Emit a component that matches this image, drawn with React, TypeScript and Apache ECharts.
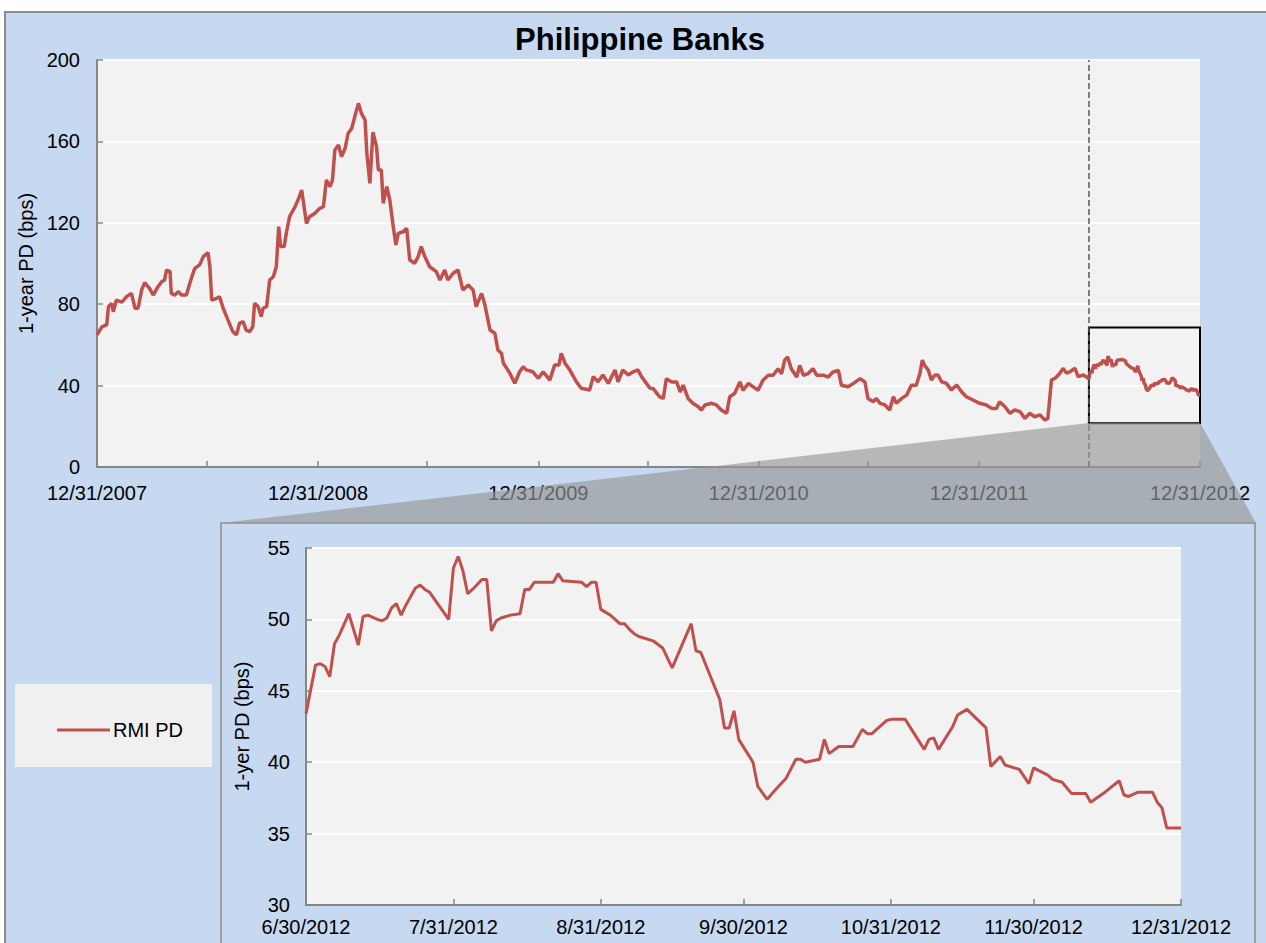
import React, { useEffect, useRef } from "react";
import * as echarts from "echarts";

// ---------- data ----------
const TITLE = "Philippine Banks";
const SERIES_NAME = "RMI PD";
const MAIN_Y_NAME = "1-year PD (bps)";
const ZOOM_Y_NAME = "1-yer PD (bps)";

const mainStart = "2007-12-31";
const mainEnd = "2012-12-31";
const zoomStart = "2012-06-30";
const zoomEnd = "2012-12-31";

const mainLabelDates = ["2007-12-31", "2008-12-31", "2009-12-31", "2010-12-31", "2011-12-31", "2012-12-31"];
const mainTickDates = [
  "2008-06-30", "2008-12-31", "2009-06-30", "2009-12-31", "2010-06-30",
  "2010-12-31", "2011-06-30", "2011-12-31", "2012-06-30", "2012-12-31",
];
const zoomLabelDates = ["2012-06-30", "2012-07-31", "2012-08-31", "2012-09-30", "2012-10-31", "2012-11-30", "2012-12-31"];

const mainYMin = 0, mainYMax = 200, mainYStep = 40;
const zoomYMin = 30, zoomYMax = 55, zoomYStep = 5;

// highlighted window (box) in the main chart
const boxYTop = 68.5;
const boxYBottom = 21.5;

// main series, 12/31/2007 - 6/29/2012
const mainDates = [
  "2007-12-31", "2008-01-08", "2008-01-16", "2008-01-19", "2008-01-24", "2008-01-27", "2008-02-01", "2008-02-10",
  "2008-02-18", "2008-02-26", "2008-03-03", "2008-03-08", "2008-03-14", "2008-03-19", "2008-03-27", "2008-04-02",
  "2008-04-10", "2008-04-16", "2008-04-21", "2008-04-24", "2008-04-30", "2008-05-02", "2008-05-08", "2008-05-14",
  "2008-05-19", "2008-05-27", "2008-06-05", "2008-06-10", "2008-06-18", "2008-06-24", "2008-07-02", "2008-07-05",
  "2008-07-08", "2008-07-16", "2008-07-21", "2008-07-27", "2008-08-04", "2008-08-12", "2008-08-18", "2008-08-23",
  "2008-08-29", "2008-09-03", "2008-09-09", "2008-09-14", "2008-09-17", "2008-09-23", "2008-09-28", "2008-10-01",
  "2008-10-07", "2008-10-12", "2008-10-18", "2008-10-23", "2008-10-27", "2008-10-30", "2008-11-05", "2008-11-09",
  "2008-11-14", "2008-11-23", "2008-11-28", "2008-12-04", "2008-12-08", "2008-12-12", "2008-12-17", "2008-12-26",
  "2009-01-03", "2009-01-09", "2009-01-14", "2009-01-20", "2009-01-24", "2009-01-28", "2009-02-03", "2009-02-08",
  "2009-02-14", "2009-02-19", "2009-02-25", "2009-03-02", "2009-03-08", "2009-03-13", "2009-03-19", "2009-03-22",
  "2009-03-27", "2009-04-01", "2009-04-07", "2009-04-10", "2009-04-15", "2009-04-18", "2009-04-24", "2009-04-29",
  "2009-05-04", "2009-05-09", "2009-05-13", "2009-05-21", "2009-05-27", "2009-06-01", "2009-06-09", "2009-06-15",
  "2009-06-20", "2009-06-26", "2009-07-04", "2009-07-15", "2009-07-21", "2009-07-29", "2009-08-03", "2009-08-12",
  "2009-08-20", "2009-08-28", "2009-09-06", "2009-09-14", "2009-09-19", "2009-09-28", "2009-10-03", "2009-10-12",
  "2009-10-20", "2009-10-25", "2009-10-31", "2009-11-03", "2009-11-14", "2009-11-22", "2009-11-30", "2009-12-06",
  "2009-12-11", "2009-12-22", "2009-12-31", "2010-01-08", "2010-01-19", "2010-01-27", "2010-02-03", "2010-02-07",
  "2010-02-13", "2010-02-21", "2010-03-04", "2010-03-12", "2010-03-26", "2010-04-01", "2010-04-09", "2010-04-17",
  "2010-04-26", "2010-05-07", "2010-05-12", "2010-05-20", "2010-05-29", "2010-06-06", "2010-06-14", "2010-06-20",
  "2010-06-28", "2010-07-04", "2010-07-09", "2010-07-20", "2010-07-26", "2010-07-31", "2010-08-09", "2010-08-17",
  "2010-08-23", "2010-08-28", "2010-09-05", "2010-09-13", "2010-09-22", "2010-09-27", "2010-10-03", "2010-10-14",
  "2010-10-22", "2010-10-30", "2010-11-08", "2010-11-13", "2010-11-21", "2010-11-30", "2010-12-05", "2010-12-14",
  "2010-12-22", "2010-12-30", "2011-01-07", "2011-01-16", "2011-01-24", "2011-02-01", "2011-02-07", "2011-02-12",
  "2011-02-17", "2011-02-23", "2011-03-04", "2011-03-09", "2011-03-15", "2011-03-23", "2011-03-31", "2011-04-06",
  "2011-04-17", "2011-04-25", "2011-05-03", "2011-05-12", "2011-05-17", "2011-05-28", "2011-06-06", "2011-06-17",
  "2011-06-25", "2011-06-30", "2011-07-09", "2011-07-14", "2011-07-20", "2011-07-28", "2011-08-05", "2011-08-11",
  "2011-08-16", "2011-08-25", "2011-09-02", "2011-09-10", "2011-09-18", "2011-09-24", "2011-09-28", "2011-10-02",
  "2011-10-08", "2011-10-13", "2011-10-19", "2011-10-24", "2011-10-30", "2011-11-07", "2011-11-15", "2011-11-24",
  "2011-12-02", "2011-12-10", "2011-12-21", "2012-01-01", "2012-01-12", "2012-01-21", "2012-01-29", "2012-02-03",
  "2012-02-12", "2012-02-20", "2012-02-28", "2012-03-08", "2012-03-16", "2012-03-24", "2012-04-01", "2012-04-10",
  "2012-04-18", "2012-04-23", "2012-04-29", "2012-05-05", "2012-05-13", "2012-05-18", "2012-05-24", "2012-05-30",
  "2012-06-07", "2012-06-12", "2012-06-21", "2012-06-29",
];
const mainValues = [
  64.9, 68.9, 69.8, 78.8, 80.4, 76.3, 82, 81,
  83.7, 85.3, 78, 78, 87, 90.6, 87.8, 84.5,
  88.6, 91, 91.9, 96.8, 96, 85.3, 84.5, 86.2,
  84.5, 84.5, 93.5, 97.6, 99.3, 103.4, 105.3, 98.4,
  82, 82.9, 83.7, 78, 72.2, 66.5, 64.9, 70.6,
  71.4, 67.3, 66.5, 68.9, 80.4, 78.8, 73.9, 78,
  78.8, 91.9, 93.5, 98.4, 118.1, 108.3, 108.3, 115.6,
  123, 127.9, 131.2, 136.1, 127.9, 119.7, 123, 124.7,
  127.1, 127.9, 141, 137.8, 141, 155.8, 158.2, 152.5,
  156.6, 164, 166.4, 172.2, 178.7, 173.8, 170.5, 154.1,
  139.4, 164.5, 157.4, 146, 146, 129.6, 137.8, 131.2,
  119.7, 109.1, 114.8, 115.6, 117.3, 101.7, 100.1, 103.4,
  108.3, 103.4, 98.4, 96, 91.9, 96.8, 91.9, 95.2,
  96.8, 87, 89.4, 87, 78.8, 85.3, 80.4, 67.3,
  65.7, 57.5, 55.9, 51.1, 46, 41.1, 46.8, 49.3,
  47.7, 46.8, 43.6, 46.8, 42.7, 50.1, 50.1, 55.9,
  51.1, 47.7, 41.9, 38.7, 37.8, 44.4, 41.9, 45.2,
  41.1, 47.7, 41.9, 47.7, 45.2, 46.8, 47.7, 44.4,
  41.1, 38.7, 38.6, 34.5, 33.7, 43.4, 41.8, 41.8,
  36.9, 40.2, 33.7, 31.3, 29.6, 28, 30.5, 31.3,
  30.5, 28, 26.4, 34.5, 36.1, 41.8, 37.7, 41.1,
  39.4, 37.7, 42.6, 45.1, 45.1, 48.3, 45.9, 52.5,
  54.1, 48.3, 44.2, 49.9, 45.1, 45.9, 48.3, 45.1,
  45.1, 44.2, 46.7, 47.5, 40.2, 39.4, 41.1, 43.4,
  41.8, 33.7, 32.1, 33.7, 31.3, 30.5, 28, 34.5,
  31.3, 33.7, 35.3, 40.2, 40.2, 45.9, 52.5, 49.9,
  47.6, 42.8, 45.2, 45.2, 41.9, 41.1, 37.8, 40.3,
  37, 34.5, 32.9, 31.3, 30.5, 28.8, 28.8, 32.1,
  29.6, 26.4, 28, 27.2, 23.9, 26.4, 24.7, 25.6,
  23.1, 23.9, 42.8, 43.6, 46.1, 48.5, 46.1, 46.9,
  48.5, 44.4, 45.2, 43.6,
];

// zoomed window, 6/30/2012 - 12/31/2012
const zoomDates = [
  "2012-06-30", "2012-07-02", "2012-07-03", "2012-07-04", "2012-07-05", "2012-07-06", "2012-07-07", "2012-07-09",
  "2012-07-11", "2012-07-12", "2012-07-13", "2012-07-15", "2012-07-16", "2012-07-17", "2012-07-18", "2012-07-19",
  "2012-07-20", "2012-07-21", "2012-07-23", "2012-07-24", "2012-07-25", "2012-07-26", "2012-07-30", "2012-07-31",
  "2012-08-01", "2012-08-02", "2012-08-03", "2012-08-04", "2012-08-06", "2012-08-07", "2012-08-08", "2012-08-09",
  "2012-08-10", "2012-08-12", "2012-08-14", "2012-08-15", "2012-08-16", "2012-08-17", "2012-08-21", "2012-08-22",
  "2012-08-23", "2012-08-27", "2012-08-28", "2012-08-29", "2012-08-30", "2012-08-31", "2012-09-02", "2012-09-04",
  "2012-09-05", "2012-09-06", "2012-09-07", "2012-09-08", "2012-09-11", "2012-09-13", "2012-09-15", "2012-09-19",
  "2012-09-20", "2012-09-21", "2012-09-25", "2012-09-26", "2012-09-27", "2012-09-28", "2012-09-29", "2012-10-02",
  "2012-10-03", "2012-10-05", "2012-10-06", "2012-10-09", "2012-10-11", "2012-10-12", "2012-10-13", "2012-10-16",
  "2012-10-17", "2012-10-18", "2012-10-20", "2012-10-23", "2012-10-25", "2012-10-26", "2012-10-27", "2012-10-30",
  "2012-10-31", "2012-11-03", "2012-11-07", "2012-11-08", "2012-11-09", "2012-11-10", "2012-11-13", "2012-11-14",
  "2012-11-16", "2012-11-20", "2012-11-21", "2012-11-23", "2012-11-24", "2012-11-27", "2012-11-29", "2012-11-30",
  "2012-12-03", "2012-12-04", "2012-12-06", "2012-12-08", "2012-12-11", "2012-12-12", "2012-12-15", "2012-12-18",
  "2012-12-19", "2012-12-20", "2012-12-22", "2012-12-25", "2012-12-26", "2012-12-27", "2012-12-28", "2012-12-31",
];
const zoomValues = [
  43.4, 46.8, 46.9, 46.7, 46.0, 48.3, 48.9, 50.4,
  48.2, 50.2, 50.3, 50.0, 49.9, 50.1, 50.8, 51.1,
  50.3, 51.0, 52.2, 52.4, 52.1, 51.9, 50.0, 53.6,
  54.4, 53.4, 51.8, 52.1, 52.8, 52.8, 49.2, 49.9,
  50.1, 50.3, 50.4, 52.1, 52.1, 52.6, 52.6, 53.2,
  52.7, 52.6, 52.3, 52.6, 52.6, 50.7, 50.3, 49.7,
  49.7, 49.3, 49.0, 48.8, 48.5, 48.0, 46.6, 49.7,
  47.8, 47.7, 44.4, 42.4, 42.4, 43.6, 41.6, 40.0,
  38.3, 37.4, 37.8, 38.9, 40.2, 40.2, 40.0, 40.2,
  41.6, 40.6, 41.1, 41.1, 42.3, 42.0, 42.0, 42.9,
  43.0, 43.0, 40.9, 41.6, 41.7, 40.9, 42.5, 43.3,
  43.7, 42.4, 39.7, 40.4, 39.8, 39.5, 38.5, 39.6,
  39.1, 38.8, 38.6, 37.8, 37.8, 37.2, 37.9, 38.7,
  37.7, 37.6, 37.9, 37.9, 37.2, 36.8, 35.4, 35.4,
];

// ---------- style ----------
const FONT = '"Liberation Sans", Arial, sans-serif';
const RED = "#c0504d";
const BLUE = "#c6d9f0";
const PLOT_BG = "#f2f2f2";
const AXIS = "#868686";

function ts(s: string): number {
  const [y, m, d] = s.split("-").map(Number);
  return Date.UTC(y, m - 1, d);
}
function fmt(v: number): string {
  const d = new Date(v);
  return `${d.getUTCMonth() + 1}/${d.getUTCDate()}/${d.getUTCFullYear()}`;
}

export default function App() {
  const ref = useRef<HTMLDivElement>(null);

  useEffect(() => {
    if (!ref.current) return;
    const chart = echarts.init(ref.current, undefined, { renderer: "svg" });

    const mainData = mainDates
      .map((d, i) => [ts(d), mainValues[i]])
      .concat(zoomDates.map((d, i) => [ts(d), zoomValues[i]]));
    const zoomData = zoomDates.map((d, i) => [ts(d), zoomValues[i]]);

    const mainGrid = { left: 97, top: 60, width: 1103, height: 407 };
    const zoomGrid = { left: 306, top: 548, width: 875, height: 357 };

    const axisLine = { show: true, lineStyle: { color: AXIS, width: 2 } };
    const labelStyle = { fontSize: 20, color: "#000", fontFamily: FONT };

    chart.setOption({
      animation: false,
      backgroundColor: "#ffffff",
      textStyle: { fontFamily: FONT },
      grid: [
        { ...mainGrid, containLabel: false },
        { ...zoomGrid, containLabel: false },
      ],
      xAxis: [
        {
          type: "value",
          gridIndex: 0,
          min: ts(mainStart),
          max: ts(mainEnd),
          axisLine,
          axisTick: {
            show: true,
            inside: true,
            length: 6,
            customValues: mainTickDates.map(ts),
            lineStyle: { color: AXIS, width: 1.5 },
          },
          axisLabel: {
            ...labelStyle,
            customValues: mainLabelDates.map(ts),
            formatter: fmt,
            margin: 16,
            showMinLabel: true,
            showMaxLabel: true,
            hideOverlap: false,
          },
          splitLine: { show: false },
        },
        {
          type: "value",
          gridIndex: 1,
          min: ts(zoomStart),
          max: ts(zoomEnd),
          axisLine,
          axisTick: {
            show: true,
            inside: true,
            length: 6,
            customValues: zoomLabelDates.map(ts),
            lineStyle: { color: AXIS, width: 1.5 },
          },
          axisLabel: {
            ...labelStyle,
            customValues: zoomLabelDates.map(ts),
            formatter: fmt,
            margin: 12,
            showMinLabel: true,
            showMaxLabel: true,
            hideOverlap: false,
          },
          splitLine: { show: false },
        },
      ],
      yAxis: [
        {
          type: "value",
          gridIndex: 0,
          min: mainYMin,
          max: mainYMax,
          interval: mainYStep,
          axisLine,
          axisTick: { show: true, inside: true, length: 6, lineStyle: { color: AXIS, width: 1.5 } },
          axisLabel: { ...labelStyle, margin: 17 },
          splitLine: { show: true, lineStyle: { color: "#ffffff", width: 2 } },
          name: MAIN_Y_NAME,
          nameLocation: "middle",
          nameGap: 55,
          nameTextStyle: { ...labelStyle },
        },
        {
          type: "value",
          gridIndex: 1,
          min: zoomYMin,
          max: zoomYMax,
          interval: zoomYStep,
          axisLine,
          axisTick: { show: true, inside: true, length: 6, lineStyle: { color: AXIS, width: 1.5 } },
          axisLabel: { ...labelStyle, margin: 16 },
          splitLine: { show: true, lineStyle: { color: "#ffffff", width: 2 } },
          name: ZOOM_Y_NAME,
          nameLocation: "middle",
          nameGap: 54,
          nameTextStyle: { ...labelStyle },
        },
      ],
      legend: {
        data: [SERIES_NAME],
        left: 52,
        top: 715,
        icon: "rect",
        itemWidth: 53,
        itemHeight: 3,
        selectedMode: false,
        itemStyle: { color: RED },
        textStyle: { ...labelStyle, padding: [0, 0, 0, -2] },
      },
      series: [
        {
          type: "line",
          name: SERIES_NAME,
          xAxisIndex: 0,
          yAxisIndex: 0,
          data: mainData,
          symbol: "none",
          showSymbol: false,
          lineStyle: { color: RED, width: 3.5 },
          itemStyle: { color: RED },
          z: 3,
          markLine: {
            silent: true,
            symbol: ["none", "none"],
            label: { show: false },
            lineStyle: { color: "#595959", width: 1.5, type: "dashed" },
            data: [{ xAxis: ts(zoomStart) }],
          },
          markArea: {
            silent: true,
            label: { show: false },
            itemStyle: { color: "rgba(0,0,0,0)", borderColor: "#000000", borderWidth: 2 },
            data: [[{ xAxis: ts(zoomStart), yAxis: boxYTop }, { xAxis: ts(zoomEnd), yAxis: boxYBottom }]],
          },
        },
        {
          type: "line",
          name: SERIES_NAME,
          xAxisIndex: 1,
          yAxisIndex: 1,
          data: zoomData,
          symbol: "none",
          showSymbol: false,
          lineStyle: { color: RED, width: 3 },
          itemStyle: { color: RED },
          z: 3,
        },
      ],
      graphic: [
        {
          type: "rect",
          silent: true,
          z: -20,
          shape: { x: 5, y: 12, width: 1300, height: 1000 },
          style: { fill: BLUE, stroke: "#8c8c8c", lineWidth: 2 },
        },
        {
          type: "rect",
          silent: true,
          z: -15,
          shape: { x: mainGrid.left, y: mainGrid.top, width: mainGrid.width, height: mainGrid.height },
          style: { fill: PLOT_BG },
        },
        {
          type: "rect",
          silent: true,
          z: -15,
          shape: { x: 15, y: 684, width: 197, height: 83 },
          style: { fill: "#f0f0f0" },
        },
        {
          type: "rect",
          silent: true,
          z: -14,
          shape: { x: 221, y: 523, width: 1034, height: 500 },
          style: { fill: BLUE, stroke: "#a0a0a0", lineWidth: 2 },
        },
        {
          type: "rect",
          silent: true,
          z: -13,
          shape: { x: zoomGrid.left, y: zoomGrid.top, width: zoomGrid.width, height: zoomGrid.height },
          style: { fill: PLOT_BG },
        },
        {
          type: "polygon",
          silent: true,
          z: 50,
          shape: { points: [[1089, 423], [1200, 423], [1256, 523], [221, 523]] },
          style: { fill: "rgba(150,150,150,0.65)" },
        },
        {
          type: "text",
          silent: true,
          z: 60,
          x: 640,
          y: 39,
          style: {
            text: TITLE,
            fill: "#000",
            font: `bold 31px ${FONT}`,
            textAlign: "center",
            textVerticalAlign: "middle",
          },
        },
      ],
    });

    return () => chart.dispose();
  }, []);

  return (
    <div
      ref={ref}
      style={{ position: "absolute", left: 0, top: 0, width: 1266, height: 943 }}
    />
  );
}
